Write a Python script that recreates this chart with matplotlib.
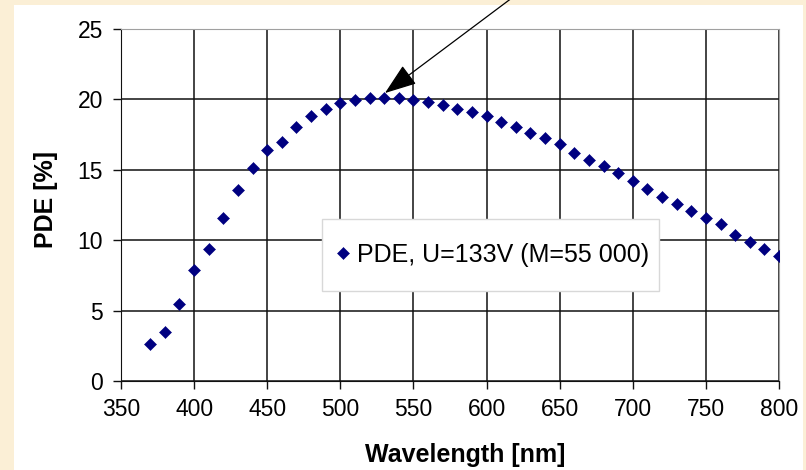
import matplotlib.pyplot as plt
from matplotlib.patches import Rectangle

plt.rcParams['font.family'] = ['Liberation Sans', 'DejaVu Sans']

# PDE vs wavelength
wavelength = [370, 380, 390, 400, 410, 420, 430, 440, 450, 460,
              470, 480, 490, 500, 510, 520, 530, 540, 550, 560,
              570, 580, 590, 600, 610, 620, 630, 640, 650, 660,
              670, 680, 690, 700, 710, 720, 730, 740, 750, 760,
              770, 780, 790, 800]
pde = [2.6, 3.5, 5.45, 7.9, 9.4, 11.6, 13.6, 15.1, 16.4, 17.0,
       18.05, 18.8, 19.35, 19.75, 19.95, 20.1, 20.1, 20.1, 19.95, 19.85,
       19.6, 19.35, 19.1, 18.8, 18.4, 18.05, 17.6, 17.25, 16.8, 16.2,
       15.7, 15.3, 14.8, 14.2, 13.65, 13.1, 12.55, 12.1, 11.6, 11.15,
       10.4, 9.9, 9.4, 8.85]
legend_label = 'PDE, U=133V (M=55 000)'
xticks = [350, 400, 450, 500, 550, 600, 650, 700, 750, 800]
yticks = [0, 5, 10, 15, 20, 25]

fig = plt.figure(figsize=(8.06, 4.70), dpi=100)
fig.patch.set_facecolor('#fbefd6')
# white chart area on the beige slide
fig.patches.append(Rectangle((14/806, 0), 789/806, 465/470, transform=fig.transFigure,
                             facecolor='white', edgecolor='none', zorder=-1))

ax = fig.add_axes([121/806, 89/470, 658/806, 352/470])
ax.set_zorder(1)
ax.set_facecolor('white')
ax.plot(wavelength, pde, linestyle='none', marker='D', markersize=6.2,
        color='#000080', markeredgewidth=0.4, label=legend_label, zorder=3)

ax.set_xlim(350, 800)
ax.set_ylim(0, 25)
ax.set_xticks(xticks)
ax.set_yticks(yticks)
ax.grid(True, color='#111111', linewidth=1.1)
ax.set_axisbelow(True)
ax.tick_params(direction='out', length=6, width=1, color='#111111', labelsize=16.5, pad=6)
ax.tick_params(axis='y', pad=7)
for s in ['left', 'bottom']:
    ax.spines[s].set_color('#111111')
for s in ['top', 'right']:
    ax.spines[s].set_color('#a0a0a0')

ax.set_xlabel('Wavelength [nm]', fontsize=18, fontweight='bold')
ax.xaxis.set_label_coords(0.523, -0.176)
ax.set_ylabel('PDE [%]', fontsize=18, fontweight='bold')
ax.yaxis.set_label_coords(-0.095, 0.517)

# legend box (Excel style, wider than its content)
ax.add_patch(Rectangle((0.3055, 0.2557), 0.5122, 0.2045, transform=ax.transAxes,
                       facecolor='white', edgecolor='#d8d8d8', linewidth=1.0, zorder=4.5))
leg = ax.legend(loc='center left', bbox_to_anchor=(0.328, 0.358), borderaxespad=0,
                fontsize=18, handlelength=0.5, handletextpad=0.3, borderpad=0,
                frameon=False)

ax.annotate('', xy=(530.5, 20.45), xytext=(616, 27.1), annotation_clip=False,
            arrowprops=dict(arrowstyle='-|>,head_length=1.0,head_width=0.36',
                            mutation_scale=20, color='black', lw=0.9,
                            shrinkA=0, shrinkB=0))

fig.savefig('out.png', dpi=100, facecolor=fig.get_facecolor())
